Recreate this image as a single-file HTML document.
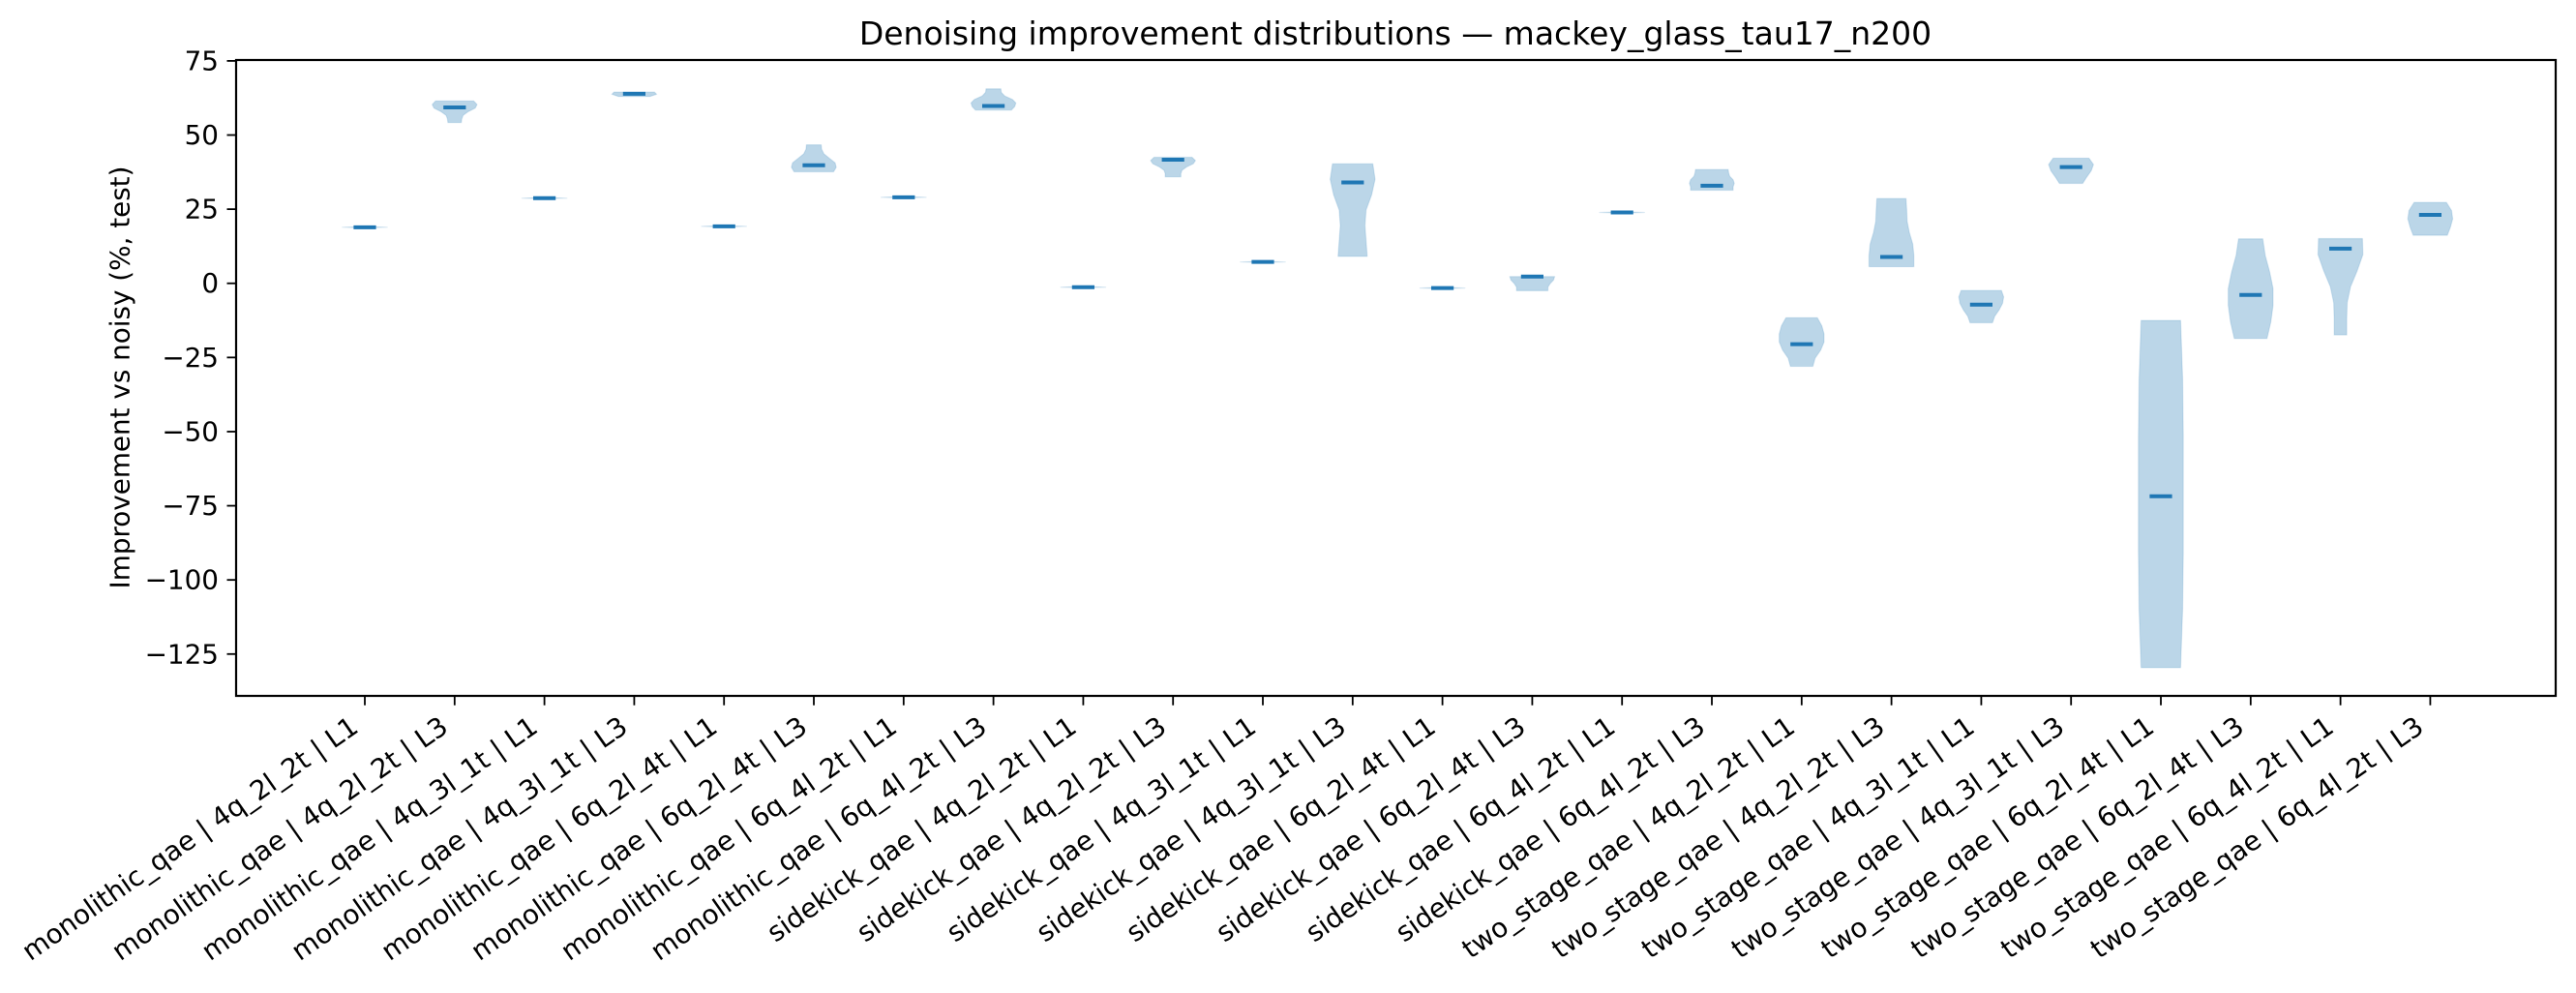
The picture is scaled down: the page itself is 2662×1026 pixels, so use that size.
<!DOCTYPE html>
<html><head><meta charset="utf-8"><style>
html,body{margin:0;padding:0;background:#fff;}
svg text{font-family:"DejaVu Sans","Liberation Sans",sans-serif;fill:#000;}
</style></head><body>
<svg id="chart" width="2662" height="1021" viewBox="0 0 2662 1021" xmlns="http://www.w3.org/2000/svg">
<rect x="0" y="0" width="2662" height="1021" fill="#fff"/>
<text x="1442" y="46" font-size="33" text-anchor="middle">Denoising improvement distributions — mackey_glass_tau17_n200</text>
<g id="plot"></g>
<rect x="244" y="62" width="2397" height="657" fill="none" stroke="#000" stroke-width="2.2"/>
<text transform="translate(124,390) rotate(-90)" font-size="27.8" text-anchor="middle" dominant-baseline="central">Improvement vs noisy (%, test)</text>
</svg>
<script>
const categories = [
"monolithic_qae | 4q_2l_2t | L1","monolithic_qae | 4q_2l_2t | L3","monolithic_qae | 4q_3l_1t | L1","monolithic_qae | 4q_3l_1t | L3",
"monolithic_qae | 6q_2l_4t | L1","monolithic_qae | 6q_2l_4t | L3","monolithic_qae | 6q_4l_2t | L1","monolithic_qae | 6q_4l_2t | L3",
"sidekick_qae | 4q_2l_2t | L1","sidekick_qae | 4q_2l_2t | L3","sidekick_qae | 4q_3l_1t | L1","sidekick_qae | 4q_3l_1t | L3",
"sidekick_qae | 6q_2l_4t | L1","sidekick_qae | 6q_2l_4t | L3","sidekick_qae | 6q_4l_2t | L1","sidekick_qae | 6q_4l_2t | L3",
"two_stage_qae | 4q_2l_2t | L1","two_stage_qae | 4q_2l_2t | L3","two_stage_qae | 4q_3l_1t | L1","two_stage_qae | 4q_3l_1t | L3",
"two_stage_qae | 6q_2l_4t | L1","two_stage_qae | 6q_2l_4t | L3","two_stage_qae | 6q_4l_2t | L1","two_stage_qae | 6q_4l_2t | L3"];
const medians = [18.9,59.3,28.7,63.9,19.2,39.8,29.0,59.8,-1.3,41.7,7.2,34.0,-1.6,2.3,23.9,32.9,-20.5,8.9,-7.2,39.2,-71.8,-3.9,11.7,23.1];
const maxVals = [19.1,61.5,28.9,64.5,19.4,46.7,29.2,65.6,-1.1,42.5,7.4,40.3,-1.4,2.3,24.1,38.4,-11.6,28.6,-2.4,42.2,-12.5,15.0,15.1,27.3];
const minVals = [18.7,54.2,28.5,63.0,19.0,37.6,28.8,58.4,-1.5,35.9,7.0,9.1,-1.8,-2.5,23.7,31.4,-28.0,5.6,-13.3,33.7,-129.6,-18.6,-17.4,16.2];
// relative half-widths sampled evenly from max (top) to min (bottom)
const profiles = [
[0.05,1,0.05],[0.85,1,0.92,0.6,0.38,0.32,0.3],[0.05,1,0.05],[0.9,1,0.7],
[0.05,1,0.05],[0.33,0.35,0.45,0.7,0.95,1,0.88],[0.05,1,0.05],[0.33,0.35,0.5,0.85,1,0.95,0.8],
[0.05,1,0.05],[0.85,1,0.9,0.6,0.4,0.35,0.35],[0.05,1,0.05],[0.9,1,0.85,0.6,0.55,0.6,0.65],
[0.05,1,0.05],[1,0.95,0.8,0.7,0.7],[0.05,1,0.05],[0.73,0.75,0.8,0.95,1,0.95,0.95],
[0.7,0.9,1,1,0.85,0.6,0.5],[0.65,0.68,0.7,0.8,0.95,1,1],[0.9,1,0.95,0.8,0.6,0.5],[0.8,1,0.9,0.7,0.52],
[0.88,0.97,1,1,1,0.97,0.88],[0.54,0.65,0.85,1,1,0.9,0.73],[0.98,1,0.75,0.45,0.3,0.28,0.28],[0.72,0.95,1,0.9,0.76]];
const yTicks = [75,50,25,0,-25,-50,-75,-100,-125];

const NS = "http://www.w3.org/2000/svg";
const plot = document.getElementById('plot');
const svg = document.getElementById('chart');
const yMin = -139.1, yMax = 75.3, plotTop = 62, plotBottom = 719;
function yScale(v){ return plotBottom - (v - yMin) / (yMax - yMin) * (plotBottom - plotTop); }
function xScale(i){ return 377 + i * 92.8; }
const halfW = 23.2;

function mk(tag, attrs){ const e = document.createElementNS(NS, tag); for (const k in attrs) e.setAttribute(k, attrs[k]); return e; }

yTicks.forEach(t => {
  const y = yScale(t);
  const tk = mk('line', {x1:234.5, x2:244, y1:y, y2:y, stroke:'#000', 'stroke-width':1.8});
  
  
  svg.appendChild(tk);
  const tx = mk('text', {x:226, y:y, 'font-size':27.8, 'text-anchor':'end', 'dominant-baseline':'central'});
  
  
  tx.textContent = t < 0 ? '\u2212' + Math.abs(t) : String(t);
  svg.appendChild(tx);
});

categories.forEach((c, i) => {
  const cx = xScale(i);
  const prof = profiles[i];
  const n = prof.length;
  const yt = yScale(maxVals[i]), yb = yScale(minVals[i]);
  const pts = prof.map((w, k) => [w * halfW, yt + (yb - yt) * k / (n - 1)]);
  let d = 'M' + (cx - pts[0][0]) + ',' + pts[0][1];
  pts.forEach(p => { d += ' L' + (cx + p[0]) + ',' + p[1]; });
  for (let k = n - 1; k >= 0; k--) d += ' L' + (cx - pts[k][0]) + ',' + pts[k][1];
  d += ' Z';
  const body = mk('path', {d:d, fill:'#1f77b4', 'fill-opacity':0.3, stroke:'#1f77b4', 'stroke-opacity':0.15, 'stroke-width':1.2, 'stroke-linejoin':'round'});
  
  
  plot.appendChild(body);
  const ym = yScale(medians[i]);
  const med = mk('line', {x1:cx - 11.6, x2:cx + 11.6, y1:ym, y2:ym, stroke:'#1f77b4', 'stroke-width':4});
  
  
  plot.appendChild(med);
  const tk = mk('line', {x1:cx, x2:cx, y1:719, y2:728.7, stroke:'#000', 'stroke-width':1.8});
  
  
  svg.appendChild(tk);
  const lb = mk('text', {'font-size':27.8, 'text-anchor':'end', 'dominant-baseline':'hanging', transform:'translate(' + (cx - 17) + ',738) rotate(-35)'});
  
  
  lb.textContent = c;
  svg.appendChild(lb);
});
</script>
</body></html>
